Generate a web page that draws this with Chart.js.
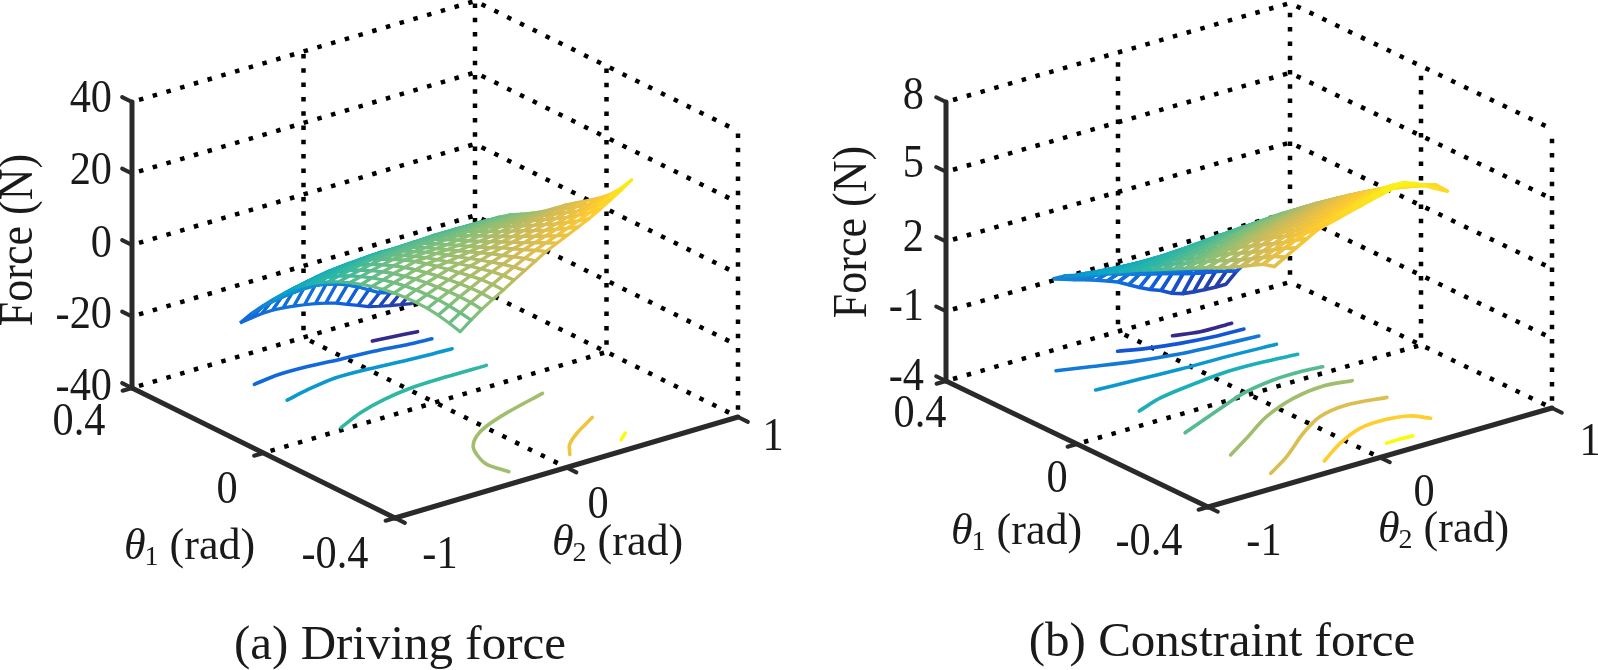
<!DOCTYPE html>
<html>
<head>
<meta charset="utf-8">
<title>Driving force and constraint force</title>
<script src="https://cdn.jsdelivr.net/npm/chart.js@4/dist/chart.umd.min.js"></script>
<style>
    html, body { margin: 0; background: #fff; }
    #page { position: relative; width: 1598px; height: 670px; overflow: hidden; }
    canvas { position: absolute; top: 0; }
    #drivingChart { left: 0; }
    #constraintChart { left: 799px; }
</style>
</head>
<body>
<div id="page">
    <canvas id="drivingChart" width="799" height="670"></canvas>
    <canvas id="constraintChart" width="799" height="670"></canvas>
</div>
<script>
// Axis ticks
const theta1Ticks = [-0.4, 0, 0.4];
const theta2Ticks = [-1, 0, 1];
const drivingForceTicks = [-40, -20, 0, 20, 40];
const constraintForceTicks = [-4, -1, 2, 5, 8];

// Sample positions of the surface mesh (rad)
const drivingTheta1 = [0.335, 0.302, 0.268, 0.235, 0.201, 0.168, 0.134, 0.101, 0.067, 0.034, 0, -0.034, -0.067, -0.101, -0.134, -0.168, -0.201, -0.235, -0.268, -0.302, -0.335];
const drivingTheta2 = [-0.495, -0.432, -0.37, -0.306, -0.244, -0.181, -0.119, -0.056, 0.005, 0.068, 0.13, 0.193, 0.255, 0.318, 0.38, 0.443, 0.505];
const constraintTheta1 = [0.338, 0.304, 0.27, 0.237, 0.203, 0.169, 0.135, 0.101, 0.068, 0.034, 0, -0.034, -0.068, -0.101, -0.135, -0.169, -0.203, -0.237, -0.27, -0.304, -0.338];
const constraintTheta2 = [-0.497, -0.434, -0.371, -0.308, -0.245, -0.182, -0.119, -0.056, 0.007, 0.069, 0.132, 0.195, 0.258, 0.321, 0.384, 0.447, 0.51];

// Force, one row per theta1, one column per theta2 (N)
const drivingForce = [
    [-26.0, -25.6, -25.2, -25.1, -25.3, -25.7, -26.2, -26.8, -27.5, -28.4, -29.6, -30.8, -32.0, -32.8, -33.5, -34.1, -34.7],
    [-22.0, -21.0, -20.0, -19.2, -18.8, -18.8, -19.2, -19.8, -20.6, -21.8, -23.2, -24.9, -26.6, -27.5, -28.3, -29.2, -30.0],
    [-18.3, -17.8, -17.3, -17.0, -16.8, -16.9, -17.1, -17.5, -17.9, -18.3, -18.7, -19.1, -19.6, -20.2, -20.9, -21.7, -22.5],
    [-14.9, -14.3, -13.7, -13.2, -12.8, -12.6, -12.5, -12.6, -12.7, -13.1, -13.5, -14.0, -14.5, -14.9, -15.4, -15.8, -16.3],
    [-11.6, -10.9, -10.3, -9.7, -9.2, -8.9, -8.7, -8.6, -8.6, -8.8, -9.1, -9.5, -9.8, -10.0, -10.2, -10.4, -10.6],
    [-8.7, -8.1, -7.5, -7.0, -6.5, -6.2, -6.0, -5.8, -5.7, -5.8, -5.9, -6.0, -6.2, -6.3, -6.4, -6.6, -6.7],
    [-6.2, -5.6, -5.1, -4.6, -4.2, -3.9, -3.6, -3.4, -3.3, -3.3, -3.3, -3.3, -3.3, -3.4, -3.5, -3.6, -3.7],
    [-4.1, -3.5, -2.9, -2.4, -2.0, -1.6, -1.3, -1.0, -0.8, -0.7, -0.6, -0.5, -0.5, -0.5, -0.6, -0.6, -0.7],
    [-2.3, -1.6, -0.9, -0.3, 0.3, 0.6, 0.8, 1.0, 1.2, 1.3, 1.4, 1.5, 1.6, 1.6, 1.7, 1.7, 1.7],
    [-0.8, 0.0, 0.7, 1.4, 2.0, 2.3, 2.5, 2.7, 2.9, 3.1, 3.2, 3.4, 3.5, 3.6, 3.7, 3.7, 3.8],
    [0.5, 1.3, 2.1, 2.8, 3.5, 3.7, 3.9, 4.1, 4.3, 4.6, 4.8, 5.1, 5.3, 5.4, 5.5, 5.5, 5.6],
    [1.6, 2.5, 3.3, 4.1, 4.8, 5.0, 5.2, 5.4, 5.6, 6.0, 6.3, 6.7, 7.0, 7.1, 7.2, 7.3, 7.4],
    [2.5, 3.4, 4.3, 5.1, 5.9, 6.1, 6.4, 6.6, 6.9, 7.3, 7.8, 8.2, 8.6, 8.8, 9.0, 9.2, 9.4],
    [3.2, 4.2, 5.1, 6.0, 6.8, 7.1, 7.5, 7.8, 8.2, 8.7, 9.2, 9.7, 10.2, 10.6, 11.0, 11.4, 11.8],
    [3.7, 4.8, 5.8, 6.7, 7.6, 8.0, 8.5, 9.0, 9.5, 10.1, 10.7, 11.3, 11.9, 12.5, 13.0, 13.6, 14.2],
    [4.0, 5.2, 6.3, 7.3, 8.3, 9.0, 9.6, 10.3, 10.9, 11.6, 12.2, 12.9, 13.6, 14.3, 15.0, 15.7, 16.4],
    [4.1, 5.4, 6.6, 7.8, 8.9, 9.8, 10.6, 11.5, 12.3, 13.0, 13.8, 14.5, 15.3, 16.1, 16.9, 17.7, 18.5],
    [4.0, 5.5, 6.9, 8.2, 9.5, 10.6, 11.6, 12.6, 13.6, 14.4, 15.3, 16.1, 17.0, 17.9, 18.8, 19.7, 20.7],
    [3.6, 5.3, 7.0, 8.5, 10.0, 11.3, 12.5, 13.7, 14.9, 15.9, 16.9, 17.9, 18.9, 20.0, 21.0, 22.1, 23.2],
    [2.9, 4.9, 6.9, 8.6, 10.2, 11.8, 13.3, 14.8, 16.2, 17.4, 18.5, 19.7, 20.9, 22.2, 23.5, 25.0, 26.5],
    [2.0, 4.4, 6.5, 8.4, 10.1, 12.0, 13.8, 15.6, 17.4, 18.8, 20.2, 21.6, 23.0, 24.7, 26.5, 28.4, 30.4]
];
const constraintForce = [
    [-0.26, -0.41, -0.56, -0.70, -0.85, -1.02, -1.2, -1.45, -1.7, -1.92, -2.1, -2.35, -2.5, -2.56, -2.6, -2.63, -2.63],
    [0.09, -0.03, -0.16, -0.25, -0.33, -0.48, -0.62, -0.75, -0.88, -1.0, -1.13, -1.27, -1.4, -1.49, -1.58, -1.7, -1.82],
    [0.36, 0.3, 0.22, 0.14, 0.05, -0.08, -0.22, -0.36, -0.5, -0.62, -0.73, -0.84, -0.95, -1.0, -1.05, -1.1, -1.15],
    [0.63, 0.6, 0.56, 0.51, 0.45, 0.37, 0.28, 0.19, 0.1, 0.04, -0.02, -0.08, -0.15, -0.2, -0.25, -0.3, -0.35],
    [0.9, 0.89, 0.87, 0.85, 0.82, 0.77, 0.72, 0.66, 0.6, 0.58, 0.55, 0.53, 0.5, 0.46, 0.42, 0.38, 0.35],
    [1.17, 1.18, 1.19, 1.2, 1.2, 1.19, 1.17, 1.15, 1.13, 1.12, 1.11, 1.1, 1.1, 1.06, 1.02, 0.98, 0.95],
    [1.43, 1.47, 1.5, 1.54, 1.57, 1.59, 1.61, 1.63, 1.65, 1.66, 1.67, 1.68, 1.68, 1.65, 1.62, 1.58, 1.55],
    [1.7, 1.76, 1.82, 1.88, 1.93, 1.98, 2.02, 2.06, 2.1, 2.13, 2.16, 2.18, 2.2, 2.17, 2.13, 2.09, 2.05],
    [1.95, 2.01, 2.07, 2.14, 2.2, 2.27, 2.33, 2.39, 2.45, 2.49, 2.53, 2.57, 2.6, 2.59, 2.58, 2.56, 2.55],
    [2.2, 2.28, 2.36, 2.43, 2.5, 2.57, 2.64, 2.71, 2.77, 2.84, 2.89, 2.95, 3.0, 2.98, 2.95, 2.93, 2.9],
    [2.45, 2.54, 2.62, 2.7, 2.78, 2.87, 2.96, 3.05, 3.13, 3.2, 3.26, 3.32, 3.37, 3.36, 3.34, 3.32, 3.3],
    [2.7, 2.79, 2.88, 2.97, 3.05, 3.15, 3.25, 3.35, 3.45, 3.53, 3.61, 3.68, 3.75, 3.73, 3.7, 3.68, 3.65],
    [2.95, 3.06, 3.17, 3.28, 3.38, 3.48, 3.58, 3.68, 3.78, 3.87, 3.96, 4.04, 4.12, 4.1, 4.08, 4.05, 4.03],
    [3.19, 3.33, 3.46, 3.59, 3.72, 3.82, 3.92, 4.01, 4.1, 4.19, 4.28, 4.37, 4.45, 4.43, 4.4, 4.38, 4.35],
    [3.43, 3.59, 3.75, 3.9, 4.05, 4.15, 4.24, 4.34, 4.43, 4.52, 4.62, 4.71, 4.8, 4.77, 4.73, 4.7, 4.67],
    [3.65, 3.83, 4.01, 4.18, 4.35, 4.45, 4.55, 4.65, 4.75, 4.85, 4.95, 5.05, 5.15, 5.11, 5.07, 5.03, 5.0],
    [3.9, 4.09, 4.28, 4.47, 4.65, 4.76, 4.87, 4.97, 5.08, 5.18, 5.28, 5.38, 5.47, 5.43, 5.39, 5.34, 5.3],
    [4.17, 4.36, 4.55, 4.74, 4.92, 5.04, 5.16, 5.28, 5.4, 5.5, 5.6, 5.7, 5.8, 5.74, 5.68, 5.61, 5.55],
    [4.45, 4.64, 4.83, 5.02, 5.2, 5.33, 5.45, 5.58, 5.7, 5.81, 5.92, 6.02, 6.12, 6.03, 5.94, 5.85, 5.75],
    [4.72, 4.93, 5.14, 5.35, 5.55, 5.67, 5.8, 5.92, 6.04, 6.16, 6.28, 6.39, 6.5, 6.37, 6.24, 6.11, 5.98],
    [4.85, 5.11, 5.38, 5.64, 5.9, 6.03, 6.15, 6.28, 6.4, 6.52, 6.64, 6.75, 6.85, 6.68, 6.45, 6.2, 5.95]
];

// Contours on the floor of each plot, [theta1, theta2] pairs
const drivingContours = [
    [[0.308, 0.225], [0.301, 0.337], [0.293, 0.46]],
    [[0.275, -0.526], [0.285, -0.369], [0.283, -0.2], [0.274, -0.023], [0.267, 0.155], [0.255, 0.325], [0.249, 0.459]],
    [[0.177, -0.523], [0.194, -0.37], [0.208, -0.188], [0.205, -0.002], [0.195, 0.21], [0.19, 0.355], [0.188, 0.46]],
    [[0.01, -0.529], [0.045, -0.348], [0.069, -0.166], [0.083, 0.015], [0.086, 0.232], [0.085, 0.462]],
    [[-0.351, -0.242], [-0.296, -0.268], [-0.247, -0.231], [-0.211, -0.182], [-0.177, -0.097], [-0.15, 0.012], [-0.122, 0.182], [-0.087, 0.46]],
    [[-0.354, 0.108], [-0.315, 0.181], [-0.279, 0.294], [-0.236, 0.465]],
    [[-0.355, 0.405], [-0.334, 0.469]]
];
const constraintContours = [
    [[0.321, 0.166], [0.305, 0.297], [0.303, 0.476]],
    [[0.322, -0.151], [0.3, -0.023], [0.282, 0.136], [0.27, 0.307], [0.266, 0.477]],
    [[0.315, -0.522], [0.292, -0.368], [0.263, -0.173], [0.243, 0.023], [0.231, 0.232], [0.221, 0.478]],
    [[0.193, -0.524], [0.187, -0.317], [0.179, -0.06], [0.176, 0.205], [0.168, 0.48]],
    [[0.06, -0.524], [0.087, -0.352], [0.102, -0.168], [0.116, 0.091], [0.114, 0.28], [0.104, 0.481]],
    [[-0.079, -0.522], [-0.034, -0.272], [0.011, -0.012], [0.03, 0.198], [0.032, 0.358], [0.026, 0.478]],
    [[-0.219, -0.524], [-0.171, -0.34], [-0.108, -0.104], [-0.066, 0.132], [-0.051, 0.334], [-0.063, 0.48]],
    [[-0.338, -0.517], [-0.29, -0.333], [-0.216, -0.096], [-0.169, 0.09], [-0.153, 0.276], [-0.169, 0.48]],
    [[-0.35, -0.229], [-0.298, -0.038], [-0.261, 0.148], [-0.256, 0.313], [-0.269, 0.423], [-0.302, 0.481]],
    [[-0.351, 0.132], [-0.349, 0.213], [-0.352, 0.282]]
];

// Colour map used for the surface and the contours
const parula = ['#352a87', '#0f5cdd', '#1481d6', '#06a4ca', '#2eb7a4', '#87bf77', '#d1bb59', '#fec832', '#f9fb0e'];

function parulaColor(t) {
    t = Math.min(1, Math.max(0, t)) * (parula.length - 1);
    const i = Math.min(parula.length - 2, Math.floor(t));
    const a = parseInt(parula[i].slice(1), 16);
    const b = parseInt(parula[i + 1].slice(1), 16);
    const f = t - i;
    const mix = s => Math.round(((a >> s) & 255) * (1 - f) + ((b >> s) & 255) * f);
    return `rgb(${mix(16)},${mix(8)},${mix(0)})`;
}

// Builds one panel: the 3D box is an oblique projection onto two hidden linear scales
function drawPanel(canvasId, panel) {
    const project = (t1, t2, f) => {
        const u = (t1 - panel.theta1Min) / (panel.theta1Max - panel.theta1Min);
        const v = (t2 - panel.theta2Min) / (panel.theta2Max - panel.theta2Min);
        const w = (f - panel.forceMin) / (panel.forceMax - panel.forceMin);
        return {
            x: panel.origin[0] + panel.uAxis[0] * u + panel.vAxis[0] * v,
            y: panel.origin[1] + panel.uAxis[1] * u + panel.vAxis[1] * v - panel.height * w
        };
    };

    const t1Min = panel.theta1Min, t1Max = panel.theta1Max;
    const t2Min = panel.theta2Min, t2Max = panel.theta2Max;
    const fMin = panel.forceMin, fMax = panel.forceMax;

    // listed bottom layer first, reversed at the end because Chart.js paints index 0 last
    const layers = [];
    const gridLine = points => layers.push({
        data: points, borderColor: '#000', borderWidth: 4.5, borderDash: [4.5, 9.8], borderDashOffset: 7
    });
    const axisLine = (points, width) => layers.push({
        data: points, borderColor: '#2a2a2a', borderWidth: width, borderCapStyle: 'round'
    });

    panel.forceTicks.forEach(f => {
        gridLine([project(t1Max, t2Min, f), project(t1Max, t2Max, f)]);
        gridLine([project(t1Max, t2Max, f), project(t1Min, t2Max, f)]);
    });
    gridLine([project(t1Max, 0, fMin), project(t1Max, 0, fMax)]);
    gridLine([project(t1Max, t2Max, fMin), project(t1Max, t2Max, fMax)]);
    gridLine([project(0, t2Max, fMin), project(0, t2Max, fMax)]);
    gridLine([project(t1Min, t2Max, fMin), project(t1Min, t2Max, fMax)]);
    gridLine([project(0, t2Min, fMin), project(0, t2Max, fMin)]);
    gridLine([project(t1Max, 0, fMin), project(t1Min, 0, fMin)]);

    panel.contours.forEach((line, k) => {
        layers.push({
            data: line.map(p => project(p[0], p[1], fMin)),
            borderColor: parulaColor(k / (panel.contours.length - 1)),
            borderWidth: 3.6, tension: 0.3, borderCapStyle: 'round'
        });
    });

    // back-to-front so nearer cells hide the ones behind, faces are white like a MATLAB mesh
    const rows = panel.surface;
    let low = Infinity, high = -Infinity;
    rows.forEach(r => r.forEach(f => { low = Math.min(low, f); high = Math.max(high, f); }));
    for (let i = 0; i < rows.length - 1; i++) {
        for (let j = rows[i].length - 2; j >= 0; j--) {
            const corners = [[i, j], [i, j + 1], [i + 1, j + 1], [i + 1, j], [i, j]];
            const mean = (rows[i][j] + rows[i][j + 1] + rows[i + 1][j + 1] + rows[i + 1][j]) / 4;
            layers.push({
                data: corners.map(c => project(panel.theta1[c[0]], panel.theta2[c[1]], rows[c[0]][c[1]])),
                borderColor: parulaColor((mean - low) / (high - low)),
                backgroundColor: '#fff', fill: 'shape', borderWidth: panel.meshWidth, borderJoinStyle: 'round'
            });
        }
    }

    axisLine([project(t1Max, t2Min, fMin), project(t1Max, t2Min, fMax)], 5);
    axisLine([project(t1Max, t2Min, fMin), project(t1Min, t2Min, fMin)], 5);
    axisLine([project(t1Min, t2Min, fMin), project(t1Min, t2Max, fMin)], 5);
    panel.forceTicks.forEach(f => axisLine([project(t1Max, t2Min, f), project(t1Max + 0.03, t2Min, f)], 4));
    theta1Ticks.forEach(t => axisLine([project(t, t2Min, fMin), project(t, t2Min - 0.055, fMin)], 4));
    theta2Ticks.forEach(t => axisLine([project(t1Min, t, fMin), project(t1Min - 0.03, t, fMin)], 4));

    const textPlugin = {
        id: 'axisText',
        afterDraw(chart) {
            const ctx = chart.ctx;
            const sx = chart.scales.x, sy = chart.scales.y;
            const put = (text, x, y, font, align, squeeze) => {
                ctx.save();
                ctx.translate(sx.getPixelForValue(x), sy.getPixelForValue(y));
                ctx.scale(squeeze, 1);
                ctx.font = font;
                ctx.textAlign = align;
                ctx.textBaseline = 'middle';
                ctx.fillStyle = '#1a1a1a';
                ctx.fillText(text, 0, 0);
                ctx.restore();
            };
            const serif = size => size + 'px "Liberation Serif"';

            panel.forceLabels.forEach((text, k) => put(text, panel.forceLabelX, panel.forceLabelY[k], serif(46), 'right', 0.92));
            panel.tickLabels.forEach(t => put(t[0], t[1], t[2], serif(46), 'center', 0.92));

            // rotated force title, a little taller than the font is
            ctx.save();
            ctx.translate(sx.getPixelForValue(panel.forceTitle[0]), sy.getPixelForValue(panel.forceTitle[1]));
            ctx.rotate(-Math.PI / 2);
            ctx.scale(1, 1.08);
            ctx.font = serif(44);
            ctx.textAlign = 'center';
            ctx.textBaseline = 'middle';
            ctx.fillStyle = '#1a1a1a';
            ctx.fillText('Force (N)', 0, 0);
            ctx.restore();

            // theta labels: italic symbol, small subscript, then the unit
            panel.thetaLabels.forEach(t => {
                let x = t[1];
                ctx.save();
                ctx.fillStyle = '#1a1a1a';
                ctx.textAlign = 'left';
                ctx.textBaseline = 'middle';
                ctx.font = 'italic ' + serif(44);
                ctx.fillText('\u03b8', sx.getPixelForValue(x), sy.getPixelForValue(t[2]));
                x += ctx.measureText('\u03b8').width - 1;
                ctx.font = serif(28);
                ctx.fillText(t[0], sx.getPixelForValue(x), sy.getPixelForValue(t[2] + 11));
                x += ctx.measureText(t[0]).width;
                ctx.font = serif(44);
                ctx.fillText(' (rad)', sx.getPixelForValue(x), sy.getPixelForValue(t[2]));
                ctx.restore();
            });

            put(panel.caption, panel.captionPos[0], panel.captionPos[1], serif(49), 'center', 1);
        }
    };

    new Chart(document.getElementById(canvasId), {
        type: 'scatter',
        data: { datasets: layers.reverse().map(l => Object.assign({ showLine: true, pointRadius: 0, tension: 0 }, l)) },
        options: {
            responsive: false,
            animation: false,
            events: [],
            layout: { padding: 0 },
            plugins: { legend: { display: false }, tooltip: { enabled: false }, title: { display: false } },
            scales: {
                x: { type: 'linear', display: false, min: 0, max: 799 },
                y: { type: 'linear', display: false, min: 0, max: 670, reverse: true }
            }
        },
        plugins: [textPlugin]
    });
}

drawPanel('drivingChart', {
    origin: [395, 518], uAxis: [-263, -130], vAxis: [343, -101], height: 286,
    theta1Min: theta1Ticks[0], theta1Max: theta1Ticks[2],
    theta2Min: theta2Ticks[0], theta2Max: theta2Ticks[2],
    forceMin: drivingForceTicks[0], forceMax: drivingForceTicks[4],
    forceTicks: drivingForceTicks,
    theta1: drivingTheta1, theta2: drivingTheta2, surface: drivingForce,
    contours: drivingContours, meshWidth: 3.2,
    forceLabels: ['-40', '-20', '0', '20', '40'],
    forceLabelX: 112, forceLabelY: [388, 316, 245, 172, 100],
    tickLabels: [['0.4', 79, 423], ['0', 227, 491], ['-0.4', 335, 556], ['-1', 440, 556], ['0', 598, 506], ['1', 773, 438]],
    thetaLabels: [['1', 124, 547], ['2', 552, 543]],
    forceTitle: [20, 240],
    caption: '(a) Driving force', captionPos: [400, 646]
});

drawPanel('constraintChart', {
    origin: [409, 507], uAxis: [-262, -126], vAxis: [344, -99], height: 279,
    theta1Min: theta1Ticks[0], theta1Max: theta1Ticks[2],
    theta2Min: theta2Ticks[0], theta2Max: theta2Ticks[2],
    forceMin: constraintForceTicks[0], forceMax: constraintForceTicks[4],
    forceTicks: constraintForceTicks,
    theta1: constraintTheta1, theta2: constraintTheta2, surface: constraintForce,
    contours: constraintContours, meshWidth: 3.6,
    forceLabels: ['-4', '-1', '2', '5', '8'],
    forceLabelX: 125, forceLabelY: [378, 308, 239, 165, 97],
    tickLabels: [['0.4', 121, 415], ['0', 258, 480], ['-0.4', 350, 543], ['-1', 465, 543], ['0', 625, 494], ['1', 791, 443]],
    thetaLabels: [['1', 152, 532], ['2', 579, 530]],
    forceTitle: [55, 232],
    caption: '(b) Constraint force', captionPos: [423, 643]
});
</script>
</body>
</html>
